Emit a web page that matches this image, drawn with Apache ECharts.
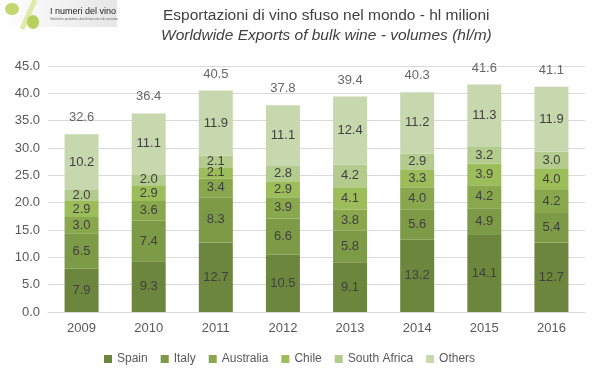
<!DOCTYPE html>
<html><head><meta charset="utf-8">
<script src="https://cdn.jsdelivr.net/npm/echarts@6/dist/echarts.min.js"></script>
<style>html,body{margin:0;padding:0;background:#fff}#c{width:599px;height:378px}</style>
</head><body><div id="c"></div>
<script>
const years = ['2009','2010','2011','2012','2013','2014','2015','2016'];
const spain = [7.9, 9.3, 12.7, 10.5, 9.1, 13.2, 14.1, 12.7];
const italy = [6.5, 7.4, 8.3, 6.6, 5.8, 5.6, 4.9, 5.4];
const australia = [3.0, 3.6, 3.4, 3.9, 3.8, 4.0, 4.2, 4.2];
const chile = [2.9, 2.9, 2.1, 2.9, 4.1, 3.3, 3.9, 4.0];
const southAfrica = [2.0, 2.0, 2.1, 2.8, 4.2, 2.9, 3.2, 3.0];
const others = [10.2, 11.1, 11.9, 11.1, 12.4, 11.2, 11.3, 11.9];
const totals = [32.6, 36.4, 40.5, 37.8, 39.4, 40.3, 41.6, 41.1];

const names = ['Spain','Italy','Australia','Chile','South Africa','Others'];
const values = [spain, italy, australia, chile, southAfrica, others];
const colors = ['#6c873d','#7d9a46','#89a84e','#9dbd5a','#b4cb8e','#c7d8ae'];
const FONT = '"Liberation Sans", Arial, sans-serif';

const chart = echarts.init(document.getElementById('c'), null, {renderer:'canvas'});
const series = names.map((n,i)=>({
  name:n, type:'bar', stack:'a', barWidth:34,
  data: values[i],
  itemStyle:{color:colors[i]},
  label:{show:true, position:'inside', color:'#404040', fontSize:13, fontFamily:FONT,
    formatter: p => p.value.toFixed(1)}
}));
series.push({
  name:'Total', type:'scatter', data: totals, symbol:'circle', symbolSize:2, silent:true,
  itemStyle:{color:'rgba(255,255,255,0)'},
  label:{show:true, position:'top', distance:9, color:'#404040', fontSize:13, fontFamily:FONT,
    formatter: p => p.value.toFixed(1)}
});

chart.setOption({
  animation:false,
  backgroundColor:'#fff',
  textStyle:{fontFamily:FONT},
  grid:{left:48, right:14, top:66, bottom:66},
  xAxis:{type:'category', data:years,
    axisLine:{lineStyle:{color:'#d9d9d9'}}, axisTick:{show:false},
    axisLabel:{color:'#595959', fontSize:13, margin:10, fontFamily:FONT}},
  yAxis:{type:'value', min:0, max:45, interval:5,
    axisLine:{show:false}, axisTick:{show:false},
    splitLine:{lineStyle:{color:'#d9d9d9'}},
    axisLabel:{color:'#595959', fontSize:13, fontFamily:FONT, formatter: v => v.toFixed(1)}},
  legend:{data:names, bottom:13, left:104, itemWidth:8, itemHeight:8, itemGap:13, padding:0,
    icon:'rect', textStyle:{color:'#595959', fontSize:12, fontFamily:FONT}},
  title:[
    {text:'Esportazioni di vino sfuso nel mondo - hl milioni', left:163, top:8, padding:0,
      textStyle:{fontSize:15.5, fontWeight:'normal', color:'#404040', fontFamily:FONT}},
    {text:'Worldwide Exports of bulk wine - volumes (hl/m)', left:161, top:28, padding:0,
      textStyle:{fontSize:15.5, fontWeight:'normal', fontStyle:'italic', color:'#404040', fontFamily:FONT}}
  ],
  graphic:[
    {type:'rect', shape:{x:0,y:0,width:117,height:27}, style:{fill:new echarts.graphic.LinearGradient(0,0,1,0,[{offset:0,color:'#ffffff'},{offset:1,color:'#e6e6e6'}])}},
    {type:'line', shape:{x1:22,y1:29,x2:35,y2:0}, style:{stroke:'#dfeaa8', lineWidth:5}},
    {type:'ellipse', shape:{cx:12,cy:9,rx:7,ry:6}, style:{fill:'#c2d86e'}},
    {type:'ellipse', shape:{cx:33,cy:22,rx:6,ry:7}, style:{fill:'#b8d05e'}},
    {type:'text', x:50, y:7, style:{text:'I numeri del vino', fill:'#222', font:'9px '+FONT}},
    {type:'text', x:50, y:18, style:{text:'Statistiche produttive, dati di mercato e di consumo', fill:'#666', font:'3px '+FONT}}
  ],
  series: series
});
</script></body></html>
